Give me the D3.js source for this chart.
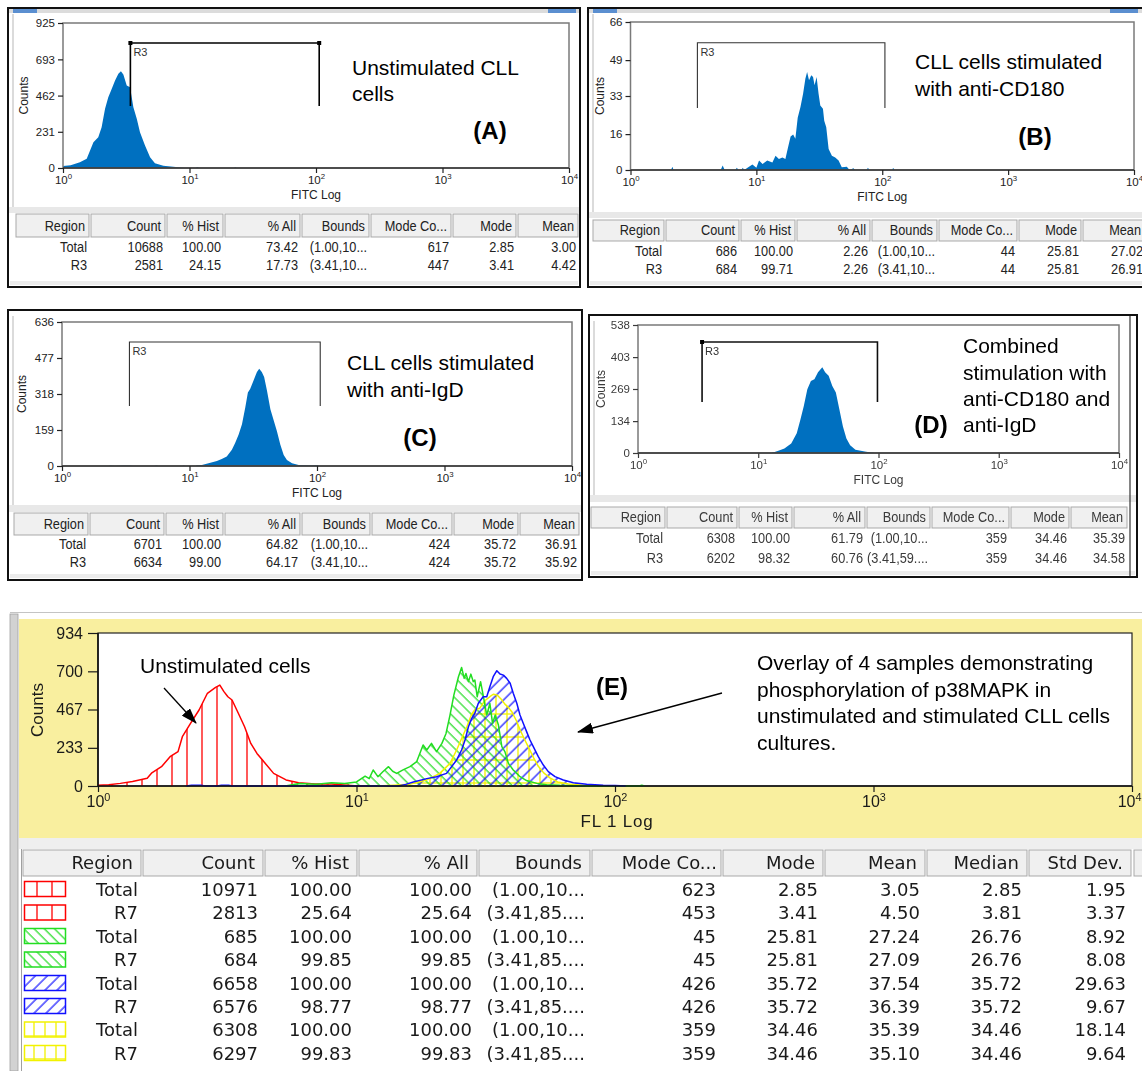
<!DOCTYPE html>
<html>
<head>
<meta charset="utf-8">
<script src="https://cdn.jsdelivr.net/npm/d3@7"></script>
<style>
  body { margin: 0; background: #fff; }
  svg { display: block; }
</style>
</head>
<body>
<div id="chart"></div>
<script>
// ---- data ----
const decades = [1, 10, 100, 1000, 10000];

const ticksA = [0, 231, 462, 693, 925];
const ticksB = [0, 16, 33, 49, 66];
const ticksC = [0, 159, 318, 477, 636];
const ticksD = [0, 134, 269, 403, 538];
const ticksE = [0, 233, 467, 700, 934];

// [FITC value, counts]
const histA = [[1.00,12],[1.15,18],[1.36,37],[1.54,59],[1.74,165],[1.90,196],[2.02,260],[2.15,378],[2.28,452],[2.43,505],[2.58,558],[2.74,601],[2.87,617],[3.00,596],[3.19,526],[3.39,515],[3.60,388],[3.83,314],[4.06,228],[4.45,144],[4.88,69],[5.33,31],[6.21,14],[8.15,5],[9.1,0],[11.2,0],[11.5,7],[11.9,0],[22.5,0],[23,6],[23.6,0]];
const histB = [[2.1,0],[2.15,1.5],[2.2,0],[5.2,0],[5.4,2],[5.6,0],[6.8,0],[7.0,1],[7.2,0],[7.6,0],[7.8,1],[8.0,0],[8.5,1],[9.3,2.4],[10.0,1],[10.5,4.2],[11.2,2.7],[12.2,4.2],[13.4,3.4],[14.2,6.4],[15.1,4.9],[16.1,5.6],[17.0,4.9],[17.8,9.8],[18.7,14.9],[19.6,15.8],[20.4,13.9],[21.3,23.3],[22.4,28.1],[23.5,34],[24.5,40.7],[25.3,43.7],[26.2,40],[27.3,42.3],[28.2,41.5],[29.0,37.8],[30.1,41.5],[31.2,34],[32.2,28.8],[33.8,27.3],[34.6,22],[35.9,19.1],[37.5,9.4],[39.8,6.4],[42.3,5.6],[45.0,4.2],[47.7,1.2],[52.3,1.5],[55,0],[59,0.8],[61,0],[75,0],[77,1],[79,0],[120,0],[122,1],[125,0]];
const histC = [[2.3,0],[2.4,2],[2.6,0],[3.0,2],[3.4,2],[3.6,0],[5.3,0],[5.5,2],[5.7,0],[8.8,0],[9.0,2],[9.3,0],[11.2,0],[11.4,3],[12.5,4],[14.1,12],[16.4,22],[17.9,31],[19.6,42],[21.5,72],[22.8,102],[24.3,139],[25.8,184],[27.4,259],[28.7,325],[29.9,340],[31.8,378],[33.8,415],[35.2,430],[36.9,415],[38.5,393],[40.5,333],[43.1,251],[45.9,199],[48.5,154],[51.6,94],[54.8,49],[58.1,27],[63.7,12],[71.8,4.5],[83,3],[92,2],[100,4],[104,0]];
const histD = [[12.9,0],[14.5,8],[16.5,19],[18.8,40],[20.9,83],[22.4,140],[23.9,197],[25.6,268],[27.4,303],[29.3,310],[31.4,339],[34.1,360],[36.0,339],[38.5,325],[41.3,282],[44.2,254],[47.3,183],[50.6,111],[54.1,61],[58.1,33],[64.3,14],[78.8,5],[93,0]];

const gateA = [3.41, 106];
const gateB = [3.40, 105];
const gateC = [3.38, 106];
const gateD = [3.41, 98];

const overlayRed = [[1.00,5],[1.10,8],[1.22,16],[1.36,27],[1.55,47],[1.61,78],[1.76,118],[1.90,179],[2.04,210],[2.12,301],[2.28,382],[2.46,464],[2.65,566],[2.85,602],[2.96,616],[3.07,576],[3.18,545],[3.30,525],[3.49,444],[3.69,362],[3.90,260],[4.12,199],[4.44,138],[4.78,77],[5.34,37],[5.97,20],[6.92,12],[8.00,12],[8.95,6],[9.8,2],[11,0]];
const overlayGreen = [[5.3,0],[6.0,15],[7.0,10],[8.0,20],[9.0,15],[10.0,25],[10.8,60],[11.2,45],[11.6,98],[12.1,57],[12.7,90],[13.3,118],[13.8,90],[14.3,77],[15.2,100],[16.1,118],[17.1,149],[18.1,250],[18.7,220],[19.5,260],[20.4,210],[21.4,260],[22.2,321],[23.0,433],[23.8,555],[24.8,667],[25.5,724],[26.1,657],[26.5,687],[27.1,637],[27.7,683],[28.3,637],[28.7,647],[29.3,545],[30.2,637],[30.9,555],[31.9,433],[32.8,504],[33.6,382],[34.4,433],[35.4,372],[36.5,240],[37.5,210],[38.7,138],[40.4,98],[42.9,57],[45.5,33],[49.8,16],[54.4,8],[61.2,4],[70,2],[80,0],[124,0],[127,5],[130,0]];
const overlayBlue = [[2.2,0],[2.3,4],[2.5,4],[2.6,0],[2.9,0],[3.0,4],[3.2,4],[3.3,0],[14.5,0],[15.5,10],[16.6,24],[18.7,45],[20.4,57],[22.3,77],[24.4,159],[25.5,220],[26.3,281],[27.1,362],[27.9,413],[28.7,444],[29.6,505],[30.9,545],[31.9,545],[32.8,606],[33.8,667],[34.9,704],[35.9,684],[37.0,677],[38.1,657],[39.3,627],[40.4,566],[41.7,505],[42.9,433],[44.2,382],[45.5,332],[46.9,281],[48.3,240],[50.5,179],[52.8,128],[55.2,88],[58.6,57],[63.1,37],[69.0,20],[77.7,10],[90,4],[100,3],[110,0]];
const overlayYellow = [[12,0],[14,5],[16.0,10],[18.7,37],[21.0,77],[23.0,138],[24.4,220],[25.5,290],[26.7,360],[27.9,440],[28.7,465],[30.0,475],[31.3,520],[32.8,545],[33.8,560],[35.0,555],[36.3,530],[37.5,500],[38.7,480],[40.0,450],[41.5,400],[43.0,340],[44.5,290],[46.5,230],[48.5,170],[50.5,120],[53.0,80],[56.0,50],[60.0,25],[66.0,12],[75.0,5],[85,0]];

const tableHead = ["Region", "Count", "% Hist", "% All", "Bounds", "Mode Co...", "Mode", "Mean"];
const tableHeadE = ["Region", "Count", "% Hist", "% All", "Bounds", "Mode Co...", "Mode", "Mean", "Median", "Std Dev."];

const rowsA = [["Total","10688","100.00","73.42","(1.00,10...","617","2.85","3.00"],
               ["R3","2581","24.15","17.73","(3.41,10...","447","3.41","4.42"]];
const rowsB = [["Total","686","100.00","2.26","(1.00,10...","44","25.81","27.02"],
               ["R3","684","99.71","2.26","(3.41,10...","44","25.81","26.91"]];
const rowsC = [["Total","6701","100.00","64.82","(1.00,10...","424","35.72","36.91"],
               ["R3","6634","99.00","64.17","(3.41,10...","424","35.72","35.92"]];
const rowsD = [["Total","6308","100.00","61.79","(1.00,10...","359","34.46","35.39"],
               ["R3","6202","98.32","60.76","(3.41,59....","359","34.46","34.58"]];
const rowsE = [["Total","10971","100.00","100.00","(1.00,10...","623","2.85","3.05","2.85","1.95"],
               ["R7","2813","25.64","25.64","(3.41,85....","453","3.41","4.50","3.81","3.37"],
               ["Total","685","100.00","100.00","(1.00,10...","45","25.81","27.24","26.76","8.92"],
               ["R7","684","99.85","99.85","(3.41,85....","45","25.81","27.09","26.76","8.08"],
               ["Total","6658","100.00","100.00","(1.00,10...","426","35.72","37.54","35.72","29.63"],
               ["R7","6576","98.77","98.77","(3.41,85....","426","35.72","36.39","35.72","9.67"],
               ["Total","6308","100.00","100.00","(1.00,10...","359","34.46","35.39","34.46","18.14"],
               ["R7","6297","99.83","99.83","(3.41,85....","359","34.46","35.10","34.46","9.64"]];
const rowKeysE = ["red","red","green","green","blue","blue","yellow","yellow"];

// ---- drawing ----
const histColor = "#0070c0";
const lineColors = { red: "#ff0000", green: "#22dd22", blue: "#1010ff", yellow: "#f2f200" };
const yellowBg = "#f9ef9f";

const svg = d3.select("#chart").append("svg")
  .attr("width", 1142).attr("height", 1071)
  .attr("font-family", "'Liberation Sans', Arial, sans-serif");

svg.append("rect").attr("width", 1142).attr("height", 1071).attr("fill", "#fff");

const defs = svg.append("defs");
defs.append("filter").attr("id", "soft")
  .append("feGaussianBlur").attr("stdDeviation", 0.55);

defs.append("marker").attr("id", "arrow")
  .attr("viewBox", "0 0 16 11").attr("refX", 15).attr("refY", 5.5)
  .attr("markerUnits", "userSpaceOnUse").attr("markerWidth", 16).attr("markerHeight", 11)
  .attr("orient", "auto")
  .append("path").attr("d", "M0,0L16,5.5L0,11Z").attr("fill", "#000");

// hatch patterns for the overlay
function pattern(id, w, h, rot) {
  const p = defs.append("pattern").attr("id", id)
    .attr("patternUnits", "userSpaceOnUse").attr("width", w).attr("height", h);
  if (rot) p.attr("patternTransform", `rotate(${rot})`);
  return p;
}
pattern("pat-red", 15, 10).append("line")
  .attr("x1", 7).attr("x2", 7).attr("y1", 0).attr("y2", 10)
  .attr("stroke", lineColors.red).attr("stroke-width", 1.3);
pattern("pat-green", 7.2, 10, -45).append("line")
  .attr("x1", 1).attr("x2", 1).attr("y1", 0).attr("y2", 10)
  .attr("stroke", lineColors.green).attr("stroke-width", 1.2);
pattern("pat-blue", 8.5, 10, 45).append("line")
  .attr("x1", 1).attr("x2", 1).attr("y1", 0).attr("y2", 10)
  .attr("stroke", lineColors.blue).attr("stroke-width", 1.2);
const py = pattern("pat-yellow", 11, 23);
py.append("line").attr("x1", 1).attr("x2", 1).attr("y1", 0).attr("y2", 23)
  .attr("stroke", lineColors.yellow).attr("stroke-width", 1.3);
py.append("line").attr("x1", 0).attr("x2", 11).attr("y1", 1).attr("y2", 1)
  .attr("stroke", lineColors.yellow).attr("stroke-width", 1.3);

// "10" with a superscript exponent
function powLabel(sel, size) {
  sel.each(function(d) {
    const t = d3.select(this).text(null);
    t.append("tspan").text("10");
    t.append("tspan").attr("dy", -size * 0.42).attr("font-size", size * 0.68)
      .text(Math.round(Math.log10(d)));
  });
}

function styleAxis(a, size, col) {
  a.attr("font-family", null).attr("font-size", null);
  a.select(".domain").remove();
  a.selectAll("line").attr("stroke", col).attr("stroke-width", 1.2);
  a.selectAll("text").attr("font-size", size).attr("fill", col);
}

const panels = [
  { frame: [8, 8, 572, 279], plot: [63, 569, 23, 168], ticks: ticksA, hist: histA,
    gate: gateA, gateY: [43, 106], gateBox: [true, true], gateCol: "#000", gateW: 1.6,
    countsX: 24, bar: true, sep: [207, 213], headY: [214, 237], rowsY: [247, 265],
    edges: [15, 90, 166, 224, 301, 370, 452, 517, 579], rows: rowsA,
    notes: [["Unstimulated CLL", 352, 75], ["cells", 352, 101]], tag: ["(A)", 490, 139] },
  { frame: [588, 8, 560, 279], plot: [630.5, 1134, 22, 170], ticks: ticksB, hist: histB,
    gate: gateB, gateY: [42.7, 108], gateBox: [false, false], gateCol: "#333", gateW: 1.1,
    countsX: 600, bar: true, sep: [212, 218], headY: [220, 241], rowsY: [251, 269],
    edges: [592, 665, 740, 796, 871, 938, 1018, 1082, 1146], rows: rowsB,
    notes: [["CLL cells stimulated", 915, 69], ["with anti-CD180", 915, 96]], tag: ["(B)", 1035, 145] },
  { frame: [8, 310, 574, 270], plot: [62, 572, 322, 466], ticks: ticksC, hist: histC,
    gate: gateC, gateY: [342, 406], gateBox: [false, false], gateCol: "#333", gateW: 1.1,
    countsX: 22, bar: false, sep: [505, 512], headY: [513, 535], rowsY: [544, 562],
    edges: [13, 89, 165, 224, 301, 371, 453, 519, 580], rows: rowsC,
    notes: [["CLL cells stimulated", 347, 370], ["with anti-IgD", 347, 397]], tag: ["(C)", 420, 446] },
  { frame: [589, 315, 548, 262], plot: [638, 1119, 325, 453], ticks: ticksD, hist: histD,
    gate: gateD, gateY: [342, 402], gateBox: [true, false], gateCol: "#111", gateW: 1.6,
    countsX: 601, bar: false, sep: [495, 502], headY: [507, 528], rowsY: [538, 558], blur: true,
    edges: [590, 666, 738, 793, 866, 931, 1010, 1070, 1128], rows: rowsD,
    notes: [["Combined", 963, 353], ["stimulation with", 963, 380], ["anti-CD180 and", 963, 406], ["anti-IgD", 963, 432]],
    tag: ["(D)", 931, 433] }
];

function flowPanel(p) {
  const [fx, fy, fw, fh] = p.frame;
  const g = svg.append("g");
  g.append("rect").attr("x", fx).attr("y", fy).attr("width", fw).attr("height", fh)
    .attr("fill", "#fff").attr("stroke", "#111").attr("stroke-width", 2);
  if (p.bar) {
    g.append("rect").attr("x", fx + 1).attr("y", fy + 1).attr("width", fw - 2).attr("height", 4).attr("fill", "#dcdcdc");
    g.append("rect").attr("x", fx + 5).attr("y", fy + 1).attr("width", 24).attr("height", 4).attr("fill", "#5b8fd0");
    g.append("rect").attr("x", Math.min(fx + fw, 1142) - 32).attr("y", fy + 1).attr("width", 28).attr("height", 4).attr("fill", "#5b8fd0");
  }
  g.append("line").attr("x1", fx + 5).attr("x2", fx + 5).attr("y1", fy + 6).attr("y2", p.sep[0])
    .attr("stroke", "#cfcfcf").attr("stroke-width", 1.5);
  g.append("rect").attr("x", fx + 1).attr("y", p.sep[0]).attr("width", fw - 2).attr("height", p.sep[1] - p.sep[0])
    .attr("fill", "#e8e8e8");

  const pg = g.append("g");
  if (p.blur) pg.attr("filter", "url(#soft)");
  const ink = p.blur ? "#3a3a3a" : "#222";
  const [x0, x1, y0, y1] = p.plot;
  const x = d3.scaleLog().domain([1, 1e4]).range([x0, x1]);
  const y = d3.scaleLinear().domain([0, d3.max(p.ticks)]).range([y1, y0]);

  pg.append("path").datum(p.hist).attr("fill", histColor)
    .attr("d", d3.area().x(d => x(d[0])).y0(y(0)).y1(d => y(d[1])));
  pg.append("rect").attr("x", x0).attr("y", y0).attr("width", x1 - x0).attr("height", y1 - y0)
    .attr("fill", "none").attr("stroke", "#7a7a7a").attr("stroke-width", 1.5);
  pg.append("line").attr("x1", x0).attr("x2", x1).attr("y1", y1).attr("y2", y1)
    .attr("stroke", "#333").attr("stroke-width", 1.6);

  // gate bracket
  const gx0 = x(p.gate[0]), gx1 = x(p.gate[1]);
  pg.append("path").attr("d", `M${gx0},${p.gateY[1]}V${p.gateY[0]}H${gx1}V${p.gateY[1]}`)
    .attr("fill", "none").attr("stroke", p.gateCol).attr("stroke-width", p.gateW);
  [gx0, gx1].forEach((gx, i) => {
    if (p.gateBox[i]) pg.append("rect").attr("x", gx - 2).attr("y", p.gateY[0] - 2)
      .attr("width", 4).attr("height", 4).attr("fill", "#000");
  });
  pg.append("text").attr("x", gx0 + 3).attr("y", p.gateY[0] + 13)
    .attr("font-size", 11).attr("fill", "#333").text("R3");

  const ya = pg.append("g").attr("transform", `translate(${x0},0)`)
    .call(d3.axisLeft(y).tickValues(p.ticks).tickSize(5).tickPadding(3));
  const xa = pg.append("g").attr("transform", `translate(0,${y1})`)
    .call(d3.axisBottom(x).tickValues(decades).tickSize(5).tickPadding(3));
  styleAxis(ya, 11.5, ink);
  styleAxis(xa, 11.5, ink);
  xa.selectAll("text").call(powLabel, 11.5);

  pg.append("text").attr("transform", `translate(${p.countsX},${(y0 + y1) / 2}) rotate(-90)`)
    .attr("text-anchor", "middle").attr("dominant-baseline", "central")
    .attr("font-size", 12).attr("fill", ink).text("Counts");
  pg.append("text").attr("x", x(100)).attr("y", y1 + 31).attr("text-anchor", "middle")
    .attr("font-size", 12).attr("fill", ink).text("FITC Log");

  // statistics table
  const e = p.edges;
  const tg = pg.append("g");
  tg.selectAll(null).data(tableHead).enter().append("rect")
    .attr("x", (d, i) => e[i] + 1).attr("y", p.headY[0])
    .attr("width", (d, i) => e[i + 1] - e[i] - 2).attr("height", p.headY[1] - p.headY[0])
    .attr("fill", "#f0f0f0").attr("stroke", "#a9a9a9");
  tg.selectAll(null).data(tableHead).enter().append("text")
    .attr("transform", (d, i) => `translate(${e[i + 1] - 5},${p.headY[1] - 6}) scale(0.85,1)`)
    .attr("text-anchor", "end").attr("font-size", 15).attr("fill", ink).text(d => d);
  p.rows.forEach((row, r) => {
    tg.selectAll(null).data(row).enter().append("text")
      .attr("transform", (d, i) => `translate(${e[i + 1] - 3},${p.rowsY[r] + 5}) scale(0.85,1)`)
      .attr("text-anchor", "end").attr("font-size", 15).attr("fill", ink).text(d => d);
  });
  g.append("rect").attr("x", fx + 2).attr("y", fy + fh - 6).attr("width", fw - 4).attr("height", 4).attr("fill", "#ececec");

  // annotations
  p.notes.forEach(n => g.append("text").attr("x", n[1]).attr("y", n[2])
    .attr("font-size", 21).attr("fill", "#000").text(n[0]));
  g.append("text").attr("x", p.tag[1]).attr("y", p.tag[2]).attr("text-anchor", "middle")
    .attr("font-size", 24).attr("font-weight", "bold").attr("fill", "#000").text(p.tag[0]);
}

panels.forEach(flowPanel);
// double border on the right of panel D
svg.append("line").attr("x1", 1130).attr("x2", 1130).attr("y1", 316).attr("y2", 576)
  .attr("stroke", "#333").attr("stroke-width", 1.2);

// ---- panel E: overlay ----
function overlayPanel() {
  const g = svg.append("g");
  g.append("line").attr("x1", 10).attr("x2", 1142).attr("y1", 612.5).attr("y2", 612.5).attr("stroke", "#c4c4c4");
  g.append("rect").attr("x", 19).attr("y", 619).attr("width", 1123).attr("height", 219).attr("fill", yellowBg);
  g.append("rect").attr("x", 19).attr("y", 838).attr("width", 1123).attr("height", 11).attr("fill", "#efefef");
  g.append("rect").attr("x", 10).attr("y", 614).attr("width", 8).attr("height", 457)
    .attr("fill", "#d2d2d2").attr("stroke", "#a0a0a0").attr("stroke-width", 0.8);
  g.append("line").attr("x1", 21.5).attr("x2", 21.5).attr("y1", 849).attr("y2", 1071).attr("stroke", "#a0a0a0");

  const x = d3.scaleLog().domain([1, 1e4]).range([98, 1132]);
  const y = d3.scaleLinear().domain([0, 934]).range([786, 633]);
  g.append("rect").attr("x", 98).attr("y", 633).attr("width", 1034).attr("height", 153)
    .attr("fill", "#fff").attr("stroke", "#222").attr("stroke-width", 1.2);

  const area = d3.area().x(d => x(d[0])).y0(y(0)).y1(d => y(d[1]));
  const line = d3.line().x(d => x(d[0])).y(d => y(d[1]));
  const series = [
    { key: "red", data: overlayRed },
    { key: "yellow", data: overlayYellow },
    { key: "green", data: overlayGreen },
    { key: "blue", data: overlayBlue }
  ];
  series.forEach(s => {
    g.append("path").datum(s.data).attr("fill", `url(#pat-${s.key})`).attr("d", area);
  });
  series.forEach(s => {
    g.append("path").datum(s.data).attr("fill", "none").attr("stroke", lineColors[s.key])
      .attr("stroke-width", 1.5).attr("stroke-linejoin", "round").attr("d", line);
  });

  const ya = g.append("g").attr("transform", "translate(98,0)")
    .call(d3.axisLeft(y).tickValues(ticksE).tickSize(10).tickPadding(5));
  const xa = g.append("g").attr("transform", "translate(0,786)")
    .call(d3.axisBottom(x).tickValues(decades).tickSize(6).tickPadding(4));
  styleAxis(ya, 16, "#1a1a1a");
  styleAxis(xa, 16, "#1a1a1a");
  xa.selectAll("text").call(powLabel, 16);
  // keep the last decade label inside the picture
  xa.selectAll(".tick text").filter(d => d === 10000).attr("text-anchor", "end").attr("x", 9);
  g.append("line").attr("x1", 98).attr("x2", 1132).attr("y1", 786).attr("y2", 786).attr("stroke", "#111").attr("stroke-width", 1.6);
  g.append("line").attr("x1", 98).attr("x2", 98).attr("y1", 633).attr("y2", 786).attr("stroke", "#111").attr("stroke-width", 1.6);

  g.append("text").attr("transform", "translate(37,710) rotate(-90)").attr("text-anchor", "middle")
    .attr("dominant-baseline", "central").attr("font-size", 17).attr("fill", "#1a1a1a").text("Counts");
  g.append("text").attr("x", x(100) + 2).attr("y", 827).attr("text-anchor", "middle")
    .attr("font-size", 17).attr("letter-spacing", 0.8).attr("fill", "#1a1a1a").text("FL 1 Log");

  // annotations
  g.append("text").attr("x", 140).attr("y", 673).attr("font-size", 21).text("Unstimulated cells");
  g.append("line").attr("x1", 164).attr("y1", 688).attr("x2", 196).attr("y2", 723)
    .attr("stroke", "#000").attr("stroke-width", 1.3).attr("marker-end", "url(#arrow)");
  g.append("text").attr("x", 612).attr("y", 695).attr("text-anchor", "middle")
    .attr("font-size", 24).attr("font-weight", "bold").text("(E)");
  g.append("line").attr("x1", 722).attr("y1", 693).attr("x2", 578).attr("y2", 732)
    .attr("stroke", "#000").attr("stroke-width", 1.3).attr("marker-end", "url(#arrow)");
  ["Overlay of 4 samples demonstrating", "phosphorylation of p38MAPK in",
   "unstimulated and stimulated CLL cells", "cultures."].forEach((t, i) => {
    g.append("text").attr("x", 757).attr("y", 670 + i * 26.7).attr("font-size", 21).text(t);
  });

  // statistics table
  const e = [22, 142, 264, 358, 478, 591, 722, 824, 926, 1028, 1132];
  const headY = [850, 876];
  const rowY = [889, 912.5, 936, 959.5, 983, 1006, 1029.5, 1053];
  const tg = g.append("g").attr("font-family", "'DejaVu Sans', Verdana, sans-serif");
  tg.selectAll(null).data(tableHeadE).enter().append("rect")
    .attr("x", (d, i) => e[i] + 1).attr("y", headY[0])
    .attr("width", (d, i) => e[i + 1] - e[i] - 2).attr("height", headY[1] - headY[0])
    .attr("fill", "#f0f0f0").attr("stroke", "#a9a9a9");
  tg.append("rect").attr("x", 1134).attr("y", headY[0]).attr("width", 12).attr("height", headY[1] - headY[0])
    .attr("fill", "#f0f0f0").attr("stroke", "#a9a9a9");
  tg.selectAll(null).data(tableHeadE).enter().append("text")
    .attr("x", (d, i) => e[i + 1] - (i === 5 ? 5 : 9)).attr("y", headY[1] - 7)
    .attr("text-anchor", "end").attr("font-size", 18).attr("fill", "#1a1a1a").text(d => d);
  rowsE.forEach((row, r) => {
    tg.selectAll(null).data(row).enter().append("text")
      .attr("x", (d, i) => e[i + 1] - (i === 0 ? 4 : 6)).attr("y", rowY[r] + 6.5)
      .attr("text-anchor", "end").attr("font-size", 18).attr("fill", "#1a1a1a").text(d => d);
    const k = rowKeysE[r];
    tg.append("rect").attr("x", 24.5).attr("y", rowY[r] - 7.5).attr("width", 41).attr("height", 15)
      .attr("fill", `url(#pat-${k})`).attr("stroke", lineColors[k]).attr("stroke-width", 1.5);
  });
}
overlayPanel();
</script>
</body>
</html>
